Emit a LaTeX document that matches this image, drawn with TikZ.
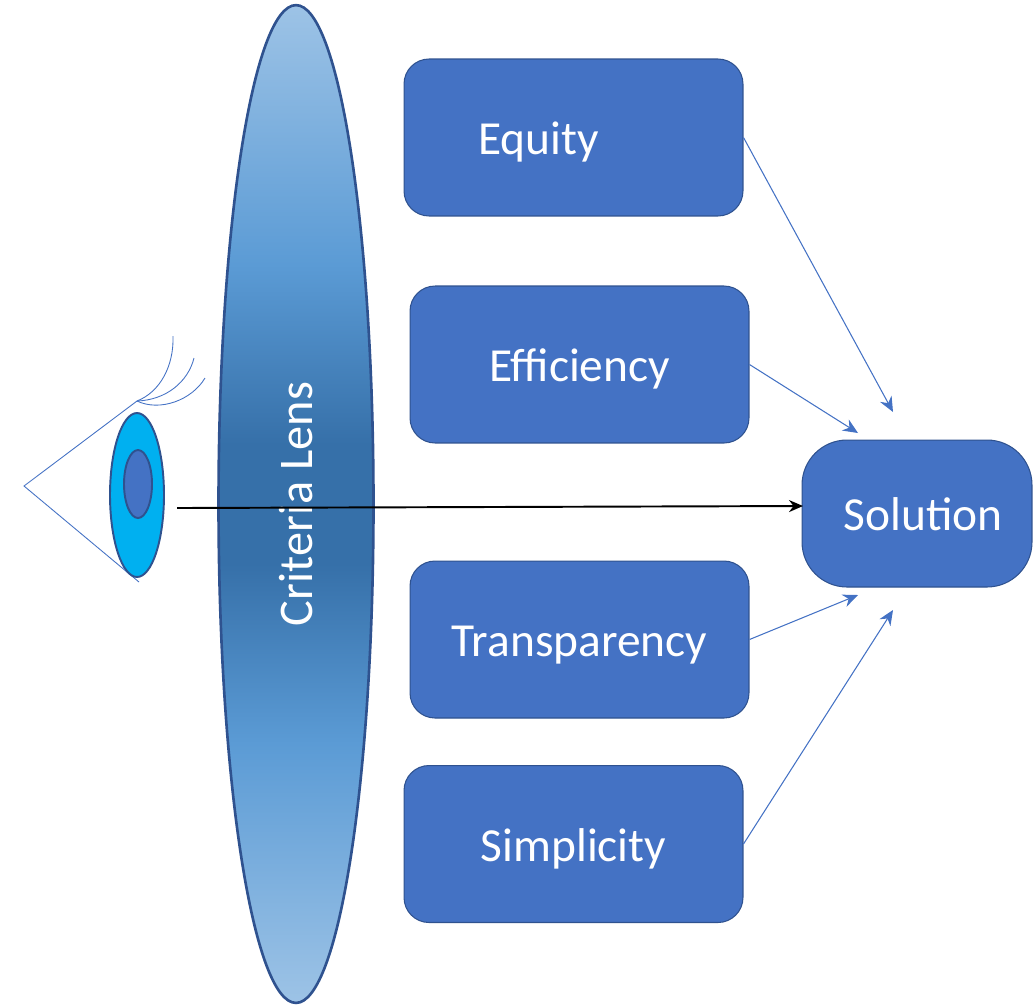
\documentclass[tikz,border=0pt]{standalone}
\usepackage{fontspec}
\setmainfont{Carlito}
\usepackage{xcolor}
\usetikzlibrary{arrows.meta,calc,positioning,shapes.geometric}
\definecolor{boxblue}{HTML}{4472C4}
\definecolor{edgeblue}{HTML}{2F528F}
\definecolor{lenslight}{HTML}{9DC3E6}
\definecolor{lensmid}{HTML}{5B9BD5}
\definecolor{lensdark}{HTML}{3670A9}
\definecolor{irisblue}{HTML}{00B0F0}
\pgfdeclareverticalshading{lensshade}{100bp}{color(0bp)=(lenslight); color(25bp)=(lenslight); color(38bp)=(lensmid); color(47bp)=(lensdark); color(53bp)=(lensdark); color(62bp)=(lensmid); color(75bp)=(lenslight); color(100bp)=(lenslight)}
\tikzset{%
	criterion/.style = {draw=edgeblue, fill=boxblue, line width=0.6pt, rectangle, rounded corners=0.5cm, minimum width=6.78cm, minimum height=3.14cm, text height=0.88cm, text depth=0.2cm, text=white, font=\fontsize{27}{30}\selectfont},
	outcome/.style   = {draw=edgeblue, fill=boxblue, line width=0.6pt, rectangle, rounded corners=0.9cm, minimum width=4.6cm, minimum height=2.94cm, text height=0.88cm, text depth=0.2cm, text=white, font=\fontsize{27}{30}\selectfont},
	lens/.style      = {draw=edgeblue, shading=lensshade, line width=1.5pt, ellipse, inner sep=0pt, minimum width=3.1cm, minimum height=19.96cm, text=white, font=\fontsize{27.5}{30}\selectfont},
	feed/.style      = {draw=boxblue, line width=0.6pt, -{Stealth[length=0.3cm,width=0.26cm]}},
	sight/.style     = {draw=black, line width=1.1pt, -{Stealth[length=0.28cm,width=0.24cm]}},
	lid/.style       = {draw=boxblue, line width=0.5pt},
}

\begin{document}
\begin{tikzpicture}[x=0.02cm,y=-0.02cm]
	\useasboundingbox (0,0) rectangle (1033,1005);
	
	% lens and criteria
	\node[lens] (Lens) at (296,504) {\rotatebox{90}{Criteria Lens}};
	\node[criterion] (Equity) at (573.5,137.5) {Equity\hspace*{1.4cm}};
	\node[criterion] (Efficiency) at (579.5,364.5) {Efficiency};
	\node[criterion] (Transparency) at (579.5,639.5) {Transparency};
	\node[criterion] (Simplicity) at (573.5,844) {Simplicity};
	\node[outcome] (Solution) at (917,513.5) {\hspace*{0.24cm}Solution};
	
	% eye
	\coordinate (lidtop) at (137,401);
	\coordinate (apex) at (24,486);
	\coordinate (lidbot) at (139,582);
	\draw[lid] (lidtop) -- (apex) -- (lidbot);
	\draw[lid] (lidtop) .. controls (160,392) and (174,366) .. (173,336);
	\draw[lid] (lidtop) .. controls (166,400) and (188,382) .. (194,358);
	\draw[lid] (lidtop) .. controls (160,412) and (192,400) .. (205,378);
	\node[draw=edgeblue, fill=irisblue, line width=1.1pt, ellipse, inner sep=0pt, minimum width=1.08cm, minimum height=3.28cm] (Eyeball) at (137,495) {};
	\node[draw=edgeblue, fill=boxblue, line width=1.1pt, ellipse, inner sep=0pt, minimum width=0.56cm, minimum height=1.36cm] (Pupil) at (138,484) {};
	
	% arrows
	\coordinate (view) at (177,508);
	\coordinate (focus) at (803,506);
	\coordinate (inA) at (893,412);
	\coordinate (inB) at (858,433);
	\coordinate (inC) at (858,595);
	\coordinate (inD) at (893,610);
	
	\draw[sight] (view) -- (focus);
	\draw[feed] (Equity.east) -- (inA);
	\draw[feed] (Efficiency.east) -- (inB);
	\draw[feed] (Transparency.east) -- (inC);
	\draw[feed] (Simplicity.east) -- (inD);
	
\end{tikzpicture}
\end{document}
